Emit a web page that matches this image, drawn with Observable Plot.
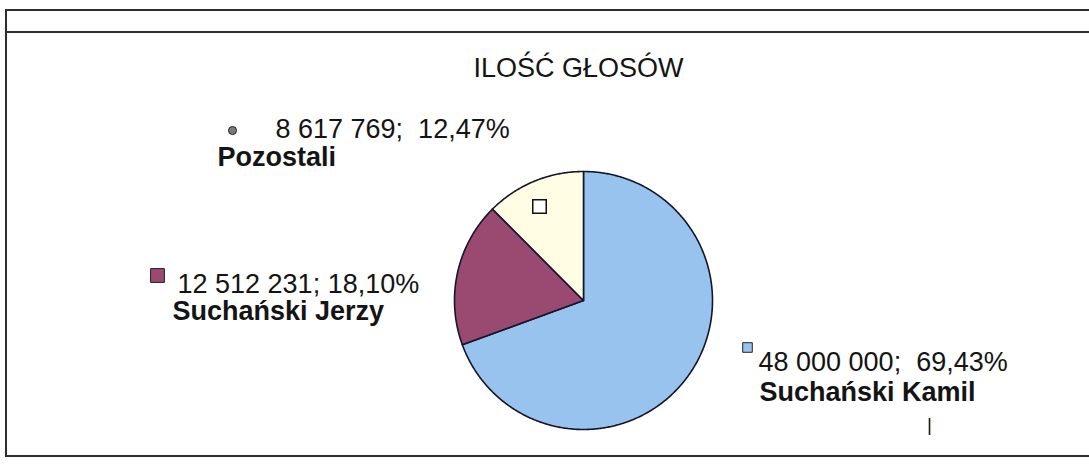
<!DOCTYPE html>
<html><head><meta charset="utf-8">
<script src="https://cdn.jsdelivr.net/npm/d3@7"></script>
<script src="https://cdn.jsdelivr.net/npm/@observablehq/plot@0.6"></script>
<style>
html,body{margin:0;padding:0;background:#fff;}
#wrap{position:relative;width:1089px;height:468px;overflow:hidden;}
#chart{position:absolute;left:0;top:0;}
.ln{position:absolute;background:#2e2e2e;}
#chart svg text{white-space:pre;}
</style></head><body>
<div id="wrap">
<div id="chart"></div>
<div class="ln" style="left:5px;top:9px;width:1084px;height:2px"></div>
<div class="ln" style="left:5px;top:31px;width:1084px;height:2px"></div>
<div class="ln" style="left:5px;top:9px;width:2px;height:448px"></div>
<div class="ln" style="left:5px;top:455px;width:1084px;height:2px"></div>
</div>
<script>
// ---- data ----
const title = "ILOŚĆ GŁOSÓW";
const names = ["Suchański Kamil", "Suchański Jerzy", "Pozostali"];
const votes = [48000000, 12512231, 8617769];
const colors = ["#99c3ef", "#9a4a71", "#fffee4"];
const separators = [";  ", "; ", ";  "];

// ---- layout (pixels) ----
const cx = 583, cy = 300, r = 129;
const FS = 27;
const valuePos = [[758, 370], [177, 292], [275, 137]];   // [x, baseline]
const namePos  = [[759, 400], [172, 319], [217, 165]];
const keyPos   = [[747, 347, 5.4, "square"], [157, 275, 7.8, "square"], [232, 130, 4, "circle"]];
const keyFill  = [colors[0], colors[1], "#7a7a7a"];

const loc = d3.formatLocale({decimal: ",", thousands: " ", grouping: [3], currency: ["", ""]});
const fmtN = loc.format(",d");
const fmtP = loc.format(".2%");
const total = d3.sum(votes);

const arcs = d3.pie().sort(null).value(d => d)(votes);
const slicePts = arcs.map((a, i) => {
  const pts = [{x: 0, y: 0}];
  const n = Math.max(2, Math.ceil((a.endAngle - a.startAngle) / (Math.PI / 360)));
  for (let k = 0; k <= n; k++) {
    const t = a.startAngle + (a.endAngle - a.startAngle) * k / n;
    pts.push({x: Math.sin(t), y: Math.cos(t)});
  }
  pts.push({x: 0, y: 0});
  return pts;
});

const marks = [];
slicePts.forEach((pts, i) => {
  marks.push(Plot.line(pts, {x: "x", y: "y", fill: colors[i], stroke: "#15152a", strokeWidth: 1.6, strokeLinejoin: "round", curve: "linear"}));
});

const textMark = (str, x, base, opts = {}) => {
  const fs = opts.fontSize || FS;
  return Plot.text([str], {text: d => d, frameAnchor: "top-left", dx: x, dy: base - 0.32 * fs,
    lineAnchor: "middle",
    textAnchor: opts.textAnchor || "start", fontSize: fs, fontWeight: opts.fontWeight || "normal",
    fill: opts.fill || "#141414"});
};

marks.push(textMark(title, 578, 76, {textAnchor: "middle"}));
names.forEach((nm, i) => {
  const label = fmtN(votes[i]) + separators[i] + fmtP(votes[i] / total);
  marks.push(textMark(label, valuePos[i][0], valuePos[i][1]));
  marks.push(textMark(nm, namePos[i][0], namePos[i][1], {fontWeight: "bold"}));
  const [kx, ky, kr, sym] = keyPos[i];
  marks.push(Plot.dot([0], {frameAnchor: "top-left", dx: kx, dy: ky, r: kr, symbol: sym,
    fill: keyFill[i], stroke: "#222", strokeWidth: 1}));
});
// marker drawn inside the "Pozostali" slice
marks.push(Plot.dot([0], {frameAnchor: "top-left", dx: 539, dy: 206, r: 7.6, symbol: "square",
  fill: "#fff", stroke: "#111", strokeWidth: 1.5}));
// stray tick under the last label
marks.push(textMark("|", 929, 430, {fontSize: 19, textAnchor: "middle"}));

const chart = Plot.plot({
  width: 1089, height: 468, margin: 0,
  x: {domain: [-1, 1], range: [cx - r, cx + r], axis: null},
  y: {domain: [-1, 1], range: [cy + r, cy - r], axis: null},
  style: {fontFamily: "'Liberation Sans', Arial, sans-serif", background: "transparent"},
  marks
});
document.getElementById("chart").appendChild(chart);
</script>
</body></html>
